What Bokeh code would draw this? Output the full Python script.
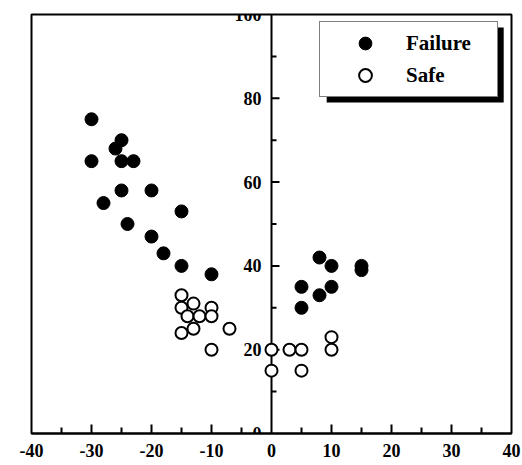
from bokeh.plotting import figure
from bokeh.models import (Range1d, SingleIntervalTicker, Legend, LegendItem, BoxAnnotation,
                          PrintfTickFormatter)
from bokeh.embed import file_html
from bokeh.resources import INLINE

# ---- data ----
fail_x = [-30, -30, -25, -26, -25, -23, -25, -28, -20, -24, -15, -20, -18, -15, -10,
          5, 5, 8, 8, 10, 10, 15, 15]
fail_y = [75, 65, 70, 68, 65, 65, 58, 55, 58, 50, 53, 47, 43, 40, 38,
          35, 30, 42, 33, 40, 35, 40, 39]
safe_x = [-15, -15, -13, -10, -14, -12, -10, -13, -15, -7, -10, 0, 3, 5, 0, 5, 10, 10]
safe_y = [33, 30, 31, 30, 28, 28, 28, 25, 24, 25, 20, 20, 20, 20, 15, 15, 23, 20]
series_labels = ["Failure", "Safe"]

# tick positions (inward tick marks)
x_major_ticks = [-30, -20, -10, 10, 20, 30]
x_minor_ticks = [-35, -25, -15, -5, 5, 15, 25, 35]
y_major_ticks = [20, 40, 60, 80]
y_minor_ticks = [10, 30, 50, 70, 90]

FONT = "Liberation Serif"
X0, X1, Y0, Y1 = -40, 40, 0, 100
FRAME_W, FRAME_H = 480, 419
UX = (X1 - X0) / FRAME_W   # data units per pixel, x
UY = (Y1 - Y0) / FRAME_H   # data units per pixel, y

p = figure(width=522, height=465, output_backend="svg", toolbar_location=None,
           x_range=Range1d(X0, X1), y_range=Range1d(Y0, Y1),
           min_border_left=31, min_border_right=11, min_border_top=14, min_border_bottom=32)
p.grid.visible = False
p.outline_line_color = "black"
p.outline_line_width = 2
p.background_fill_color = "white"
p.border_fill_color = "white"


def style_axis(ax, interval):
    ax.ticker = SingleIntervalTicker(interval=interval, num_minor_ticks=2)
    ax.formatter = PrintfTickFormatter(format="%d")
    ax.axis_line_width = 2
    ax.major_tick_in = 0
    ax.major_tick_out = 0
    ax.minor_tick_in = 0
    ax.minor_tick_out = 0
    ax.major_label_text_font = FONT
    ax.major_label_text_font_style = "bold"
    ax.major_label_text_font_size = "18px"
    ax.major_label_text_color = "black"
    ax.major_label_standoff = 10


style_axis(p.xaxis[0], 10)
ya = p.yaxis[0]
ya.fixed_location = 0
style_axis(ya, 20)
ya.level = "underlay"

# inward tick marks (pointing up from the bottom edge, right from x = 0)
for ticks, length in ((x_major_ticks, 9), (x_minor_ticks, 6)):
    p.segment(x0=ticks, y0=[Y0] * len(ticks), x1=ticks, y1=[Y0 + length * UY] * len(ticks),
              line_color="black", line_width=2)
for ticks, length in ((y_major_ticks, 8), (y_minor_ticks, 5)):
    p.segment(x0=[0] * len(ticks), y0=ticks, x1=[length * UX] * len(ticks), y1=ticks,
              line_color="black", line_width=2)

r_fail = p.scatter(fail_x, fail_y, marker="circle", size=13,
                   fill_color="black", line_color="black", line_width=1)
r_safe = p.scatter(safe_x, safe_y, marker="circle", size=12,
                   fill_color="white", line_color="black", line_width=2)

# legend shadow
shadow = BoxAnnotation(left=9.2, right=38.7, top=96.9, bottom=79.0,
                       fill_color="black", fill_alpha=1, line_color=None, level="annotation")
p.add_layout(shadow)

legend = Legend(items=[LegendItem(label=series_labels[0], renderers=[r_fail]),
                       LegendItem(label=series_labels[1], renderers=[r_safe])],
                location=(288, 336), orientation="vertical",
                padding=5, spacing=0, margin=0,
                glyph_width=80, glyph_height=32, label_height=32, label_width=86,
                label_standoff=1,
                label_text_font=FONT, label_text_font_style="bold",
                label_text_font_size="21px", label_text_color="black",
                border_line_color="black", border_line_width=1.5,
                background_fill_color="white", background_fill_alpha=1)
p.add_layout(legend, "center")

open("out.html", "w").write(file_html(p, INLINE))
